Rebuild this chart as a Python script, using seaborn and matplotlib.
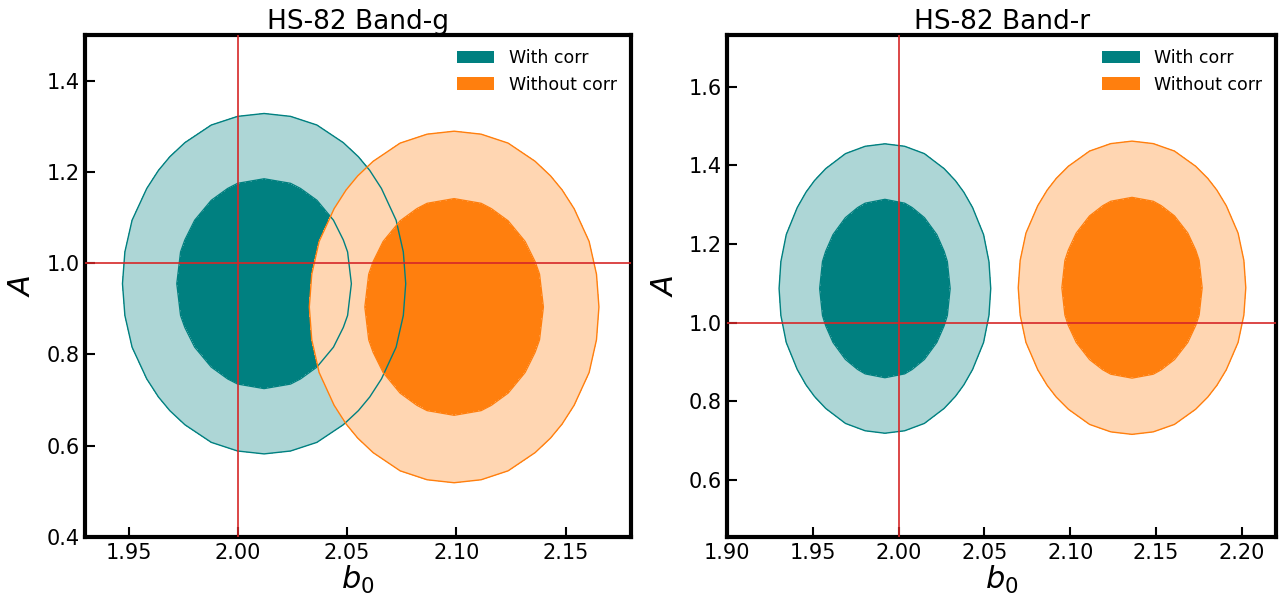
import numpy as np
import matplotlib
matplotlib.use("Agg")
import matplotlib.pyplot as plt
from matplotlib.patches import Patch
from matplotlib.colors import to_rgb
import seaborn as sns

sns.set_style("white")
plt.rcParams["font.family"] = ["DejaVu Sans"]
plt.rcParams["mathtext.fontset"] = "dejavusans"
for key in ["text.color", "axes.labelcolor", "xtick.color", "ytick.color"]:
    plt.rcParams[key] = "black"

# Posterior summaries (mean, sigma) for (b0, A) in each band
bands = ["HS-82 Band-g", "HS-82 Band-r"]
series = ["With corr", "Without corr"]
colors = ["#008080", "#ff7f0e"]

b0_mean = {"HS-82 Band-g": [2.012, 2.099], "HS-82 Band-r": [1.992, 2.136]}
b0_sigma = {"HS-82 Band-g": [0.0266, 0.0272], "HS-82 Band-r": [0.0253, 0.0272]}
A_mean = {"HS-82 Band-g": [0.955, 0.904], "HS-82 Band-r": [1.087, 1.089]}
A_sigma = {"HS-82 Band-g": [0.153, 0.158], "HS-82 Band-r": [0.151, 0.153]}

b0_true = 2.0
A_true = 1.0

xlims = {"HS-82 Band-g": (1.93, 2.18), "HS-82 Band-r": (1.90, 2.22)}
ylims = {"HS-82 Band-g": (0.4, 1.5), "HS-82 Band-r": (0.455, 1.732)}
xticks = {"HS-82 Band-g": [1.95, 2.00, 2.05, 2.10, 2.15],
          "HS-82 Band-r": [1.90, 1.95, 2.00, 2.05, 2.10, 2.15, 2.20]}
yticks = {"HS-82 Band-g": [0.4, 0.6, 0.8, 1.0, 1.2, 1.4],
          "HS-82 Band-r": [0.6, 0.8, 1.0, 1.2, 1.4, 1.6]}

# Chi-square thresholds enclosing 68% and 95% of a 2D Gaussian
chi2_levels = [2.30, 5.99]


def lighten(c, a=0.32):
    r, g, b = to_rgb(c)
    return (1 - a + a * r, 1 - a + a * g, 1 - a + a * b)


fig = plt.figure(figsize=(12.8, 6.06), dpi=100)
axes = [fig.add_axes([0.0664, 0.1139, 0.4266, 0.8284]),
        fig.add_axes([0.568, 0.1139, 0.429, 0.8284])]

for ax, band in zip(axes, bands):
    grids = []
    for i, col in enumerate(colors):
        mx, sx = b0_mean[band][i], b0_sigma[band][i]
        my, sy = A_mean[band][i], A_sigma[band][i]
        gx = np.linspace(mx - 5 * sx, mx + 5 * sx, 23)
        gy = np.linspace(my - 5 * sy, my + 5 * sy, 23)
        X, Y = np.meshgrid(gx, gy)
        chi2 = ((X - mx) / sx) ** 2 + ((Y - my) / sy) ** 2
        grids.append((X, Y, chi2))
        ax.contourf(X, Y, chi2, levels=[0, chi2_levels[0], chi2_levels[1]],
                    colors=[col, lighten(col)], zorder=2 + i)
    # contour outlines sit above every fill
    for (X, Y, chi2), col in zip(grids, colors):
        ax.contour(X, Y, chi2, levels=chi2_levels, colors=[col],
                   linewidths=1.0, zorder=5)
    ax.axvline(b0_true, color="#d62728", lw=1.2, zorder=6)
    ax.axhline(A_true, color="#d62728", lw=1.2, zorder=6)

    ax.set_xlim(*xlims[band])
    ax.set_ylim(*ylims[band])
    ax.set_xticks(xticks[band])
    ax.set_yticks(yticks[band])
    ax.set_xticklabels([f"{v:.2f}" for v in xticks[band]])
    ax.set_yticklabels([f"{v:.1f}" for v in yticks[band]])
    ax.tick_params(direction="in", length=7, width=1.5, labelsize=15,
                   bottom=True, left=True, top=False, right=False, pad=4)
    for sp in ax.spines.values():
        sp.set_linewidth(3)
        sp.set_color("black")
    ax.set_xlabel(r"$b_0$", fontsize=22, labelpad=1)
    ax.set_ylabel(r"$A$", fontsize=22, labelpad=7)
    ax.set_title(band, fontsize=19, pad=4)

    handles = [Patch(facecolor=c, edgecolor="none", label=s)
               for s, c in zip(series, colors)]
    ax.legend(handles=handles, loc="upper right", frameon=False,
              fontsize=12.5, borderaxespad=0.4, handlelength=2.15,
              handletextpad=0.85)

fig.savefig("out.png", dpi=100)
